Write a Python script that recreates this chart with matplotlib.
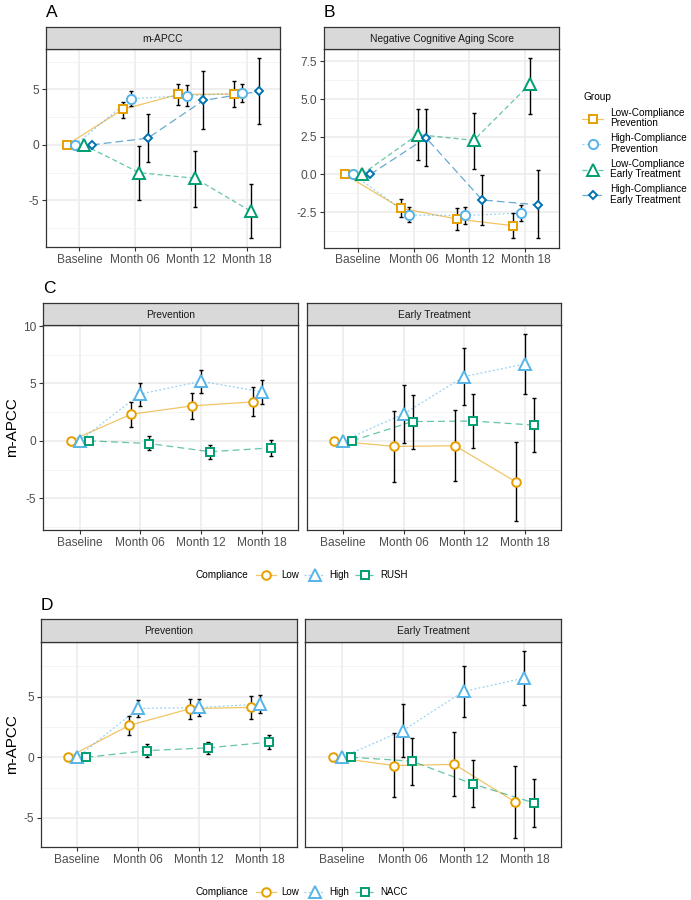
import numpy as np
import matplotlib.pyplot as plt
from matplotlib.lines import Line2D

plt.rcParams['font.family'] = ['Liberation Sans', 'DejaVu Sans']
plt.rcParams['lines.scale_dashes'] = False

# ---- data ---------------------------------------------------------------
times = ["Baseline", "Month 06", "Month 12", "Month 18"]

# panel A : m-APCC (mean, lower, upper) ; baseline has no error bar
a_lowprev = [0, 3.19, 4.55, 4.58]
a_lowprev_lo = [np.nan, 2.44, 3.61, 3.40]
a_lowprev_hi = [np.nan, 3.86, 5.51, 5.75]
a_highprev = [0, 4.16, 4.43, 4.67]
a_highprev_lo = [np.nan, 3.46, 3.46, 3.89]
a_highprev_hi = [np.nan, 4.85, 5.36, 5.45]
a_lowet = [0, -2.51, -3.02, -5.98]
a_lowet_lo = [np.nan, -4.97, -5.59, -8.40]
a_lowet_hi = [np.nan, -0.12, -0.56, -3.55]
a_highet = [0, 0.60, 4.00, 4.82]
a_highet_lo = [np.nan, -1.57, 1.42, 1.84]
a_highet_hi = [np.nan, 2.77, 6.63, 7.83]

# panel B : Negative Cognitive Aging Score
b_lowprev = [0, -2.24, -2.96, -3.40]
b_lowprev_lo = [np.nan, -2.85, -3.71, -4.25]
b_lowprev_hi = [np.nan, -1.64, -2.24, -2.57]
b_highprev = [0, -2.70, -2.72, -2.57]
b_highprev_lo = [np.nan, -3.18, -3.29, -3.11]
b_highprev_hi = [np.nan, -2.17, -2.13, -2.02]
b_lowet = [0, 2.65, 2.26, 5.98]
b_lowet_lo = [np.nan, 0.94, 0.39, 4.04]
b_lowet_hi = [np.nan, 4.33, 4.08, 7.73]
b_highet = [0, 2.43, -1.69, -2.02]
b_highet_lo = [np.nan, 0.57, -3.36, -4.25]
b_highet_hi = [np.nan, 4.33, -0.04, 0.29]

# panel C : m-APCC vs RUSH
c_prev_low = [0, 2.32, 3.04, 3.39]
c_prev_low_lo = [np.nan, 1.16, 1.91, 2.12]
c_prev_low_hi = [np.nan, 3.42, 4.20, 4.72]
c_prev_high = [0, 4.08, 5.18, 4.28]
c_prev_high_lo = [np.nan, 3.04, 4.14, 3.22]
c_prev_high_hi = [np.nan, 5.07, 6.17, 5.30]
c_prev_rush = [0, -0.24, -0.95, -0.62]
c_prev_rush_lo = [np.nan, -0.84, -1.57, -1.28]
c_prev_rush_hi = [np.nan, 0.38, -0.35, 0.03]
c_et_low = [0, -0.49, -0.43, -3.56]
c_et_low_lo = [np.nan, -3.62, -3.54, -6.96]
c_et_low_hi = [np.nan, 2.64, 2.70, -0.14]
c_et_high = [0, 2.34, 5.60, 6.69]
c_et_high_lo = [np.nan, -0.20, 3.13, 4.09]
c_et_high_hi = [np.nan, 4.87, 8.06, 9.28]
c_et_rush = [0, 1.68, 1.72, 1.37]
c_et_rush_lo = [np.nan, -0.67, -0.64, -1.01]
c_et_rush_hi = [np.nan, 4.03, 4.09, 3.74]

# panel D : m-APCC vs NACC
d_prev_low = [0, 2.63, 4.01, 4.12]
d_prev_low_lo = [np.nan, 1.84, 3.20, 3.20]
d_prev_low_hi = [np.nan, 3.42, 4.82, 5.04]
d_prev_high = [0, 4.03, 4.11, 4.39]
d_prev_high_lo = [np.nan, 3.32, 3.40, 3.62]
d_prev_high_hi = [np.nan, 4.74, 4.82, 5.15]
d_prev_nacc = [0, 0.55, 0.78, 1.25]
d_prev_nacc_lo = [np.nan, 0.05, 0.27, 0.66]
d_prev_nacc_hi = [np.nan, 1.07, 1.29, 1.84]
d_et_low = [0, -0.68, -0.59, -3.70]
d_et_low_lo = [np.nan, -3.32, -3.23, -6.66]
d_et_low_hi = [np.nan, 1.97, 2.05, -0.74]
d_et_high = [0, 2.20, 5.44, 6.54]
d_et_high_lo = [np.nan, 0.05, 3.34, 4.30]
d_et_high_hi = [np.nan, 4.36, 7.53, 8.77]
d_et_nacc = [0, -0.32, -2.20, -3.76]
d_et_nacc_lo = [np.nan, -2.25, -4.14, -5.73]
d_et_nacc_hi = [np.nan, 1.62, -0.25, -1.78]

group_labels = ["Low-Compliance\nPrevention", "High-Compliance\nPrevention",
                "Low-Compliance\nEarly Treatment", "High-Compliance\nEarly Treatment"]

# ---- styles -------------------------------------------------------------
ORANGE, SKY, GREEN, BLUE = "#E69F00", "#56B4E9", "#009E73", "#0072B2"
DOT = (0, (1.4, 1.6))
DASH = (0, (3.6, 2.2))
LONGDASH = (0, (5.6, 2.9))

style_ab = [dict(color=ORANGE, marker="s", ms=6.0, ls="-"),
            dict(color=SKY, marker="o", ms=6.6, ls=DOT),
            dict(color=GREEN, marker="^", ms=8.6, ls=DASH),
            dict(color=BLUE, marker="D", ms=4.1, ls=LONGDASH)]
style_cd = [dict(color=ORANGE, marker="o", ms=6.2, ls="-"),
            dict(color=SKY, marker="^", ms=8.4, ls=DOT),
            dict(color=GREEN, marker="s", ms=6.4, ls=(0, (5, 3)))]

W, H = 691, 900
fig = plt.figure(figsize=(6.91, 9.0), dpi=100)


def box(l, t, r, b):
    return [l / W, 1 - b / H, (r - l) / W, (b - t) / H]


def ylimits(series):
    vals = []
    for m, lo, hi in series:
        vals += list(m) + [v for v in lo + hi if not np.isnan(v)]
    lo, hi = min(vals), max(vals)
    pad = 0.05 * (hi - lo)
    return lo - pad, hi + pad


def panel(rect, strip_top, title, series, styles, offsets, ylim, yticks, ytlabels):
    l, t, r, b = rect
    ax = fig.add_axes(box(l, t, r, b))
    st = fig.add_axes(box(l, strip_top, r, t))
    st.set_facecolor("#D9D9D9")
    st.set_xticks([])
    st.set_yticks([])
    for s in st.spines.values():
        s.set_color("#333333")
        s.set_linewidth(0.9)
    st.text(0.5, 0.47, title, ha="center", va="center", fontsize=7.4, color="#1A1A1A",
            transform=st.transAxes)

    x = np.arange(len(times))
    for (m, lo, hi), sty, off in zip(series, styles, offsets):
        xs = x + off
        m = np.array(m)
        lo = np.array(lo)
        hi = np.array(hi)
        ax.plot(xs, m, color=sty["color"], ls=sty["ls"], lw=0.9, alpha=0.6, zorder=2)
        ax.errorbar(xs, m, yerr=[m - lo, hi - m], fmt="none", ecolor="black",
                    elinewidth=1.0, capsize=1.1, capthick=1.0, zorder=3)
        ax.plot(xs, m, ls="none", marker=sty["marker"], ms=sty["ms"], mec=sty["color"],
                mfc="white", mew=1.4, zorder=4)

    ax.set_xlim(-0.6, 3.6)
    ax.set_ylim(*ylim)
    ax.set_xticks(x)
    ax.set_xticklabels(times)
    ax.set_yticks(yticks)
    step = yticks[1] - yticks[0]
    minor = np.arange(yticks[0] - step * 1.5, yticks[-1] + step, step)
    ax.set_yticks(minor, minor=True)
    ax.tick_params(axis="y", which="minor", length=0)
    ax.grid(which="major", color="#EBEBEB", lw=1.1, zorder=0)
    ax.grid(which="minor", axis="y", color="#F2F2F2", lw=0.6, zorder=0)
    ax.set_axisbelow(True)
    ax.tick_params(which="major", length=3.0, width=0.8, color="#333333",
                   labelsize=8.6, labelcolor="#4D4D4D", pad=2)
    if ytlabels is None:
        ax.tick_params(axis="y", which="major", length=0, labelleft=False)
    else:
        ax.set_yticklabels(ytlabels)
    for s in ax.spines.values():
        s.set_color("#333333")
        s.set_linewidth(0.9)
    ax.set_ylim(*ylim)
    return ax


offs4 = [-0.225, -0.075, 0.075, 0.225]
offs3 = [-0.15, 0.0, 0.15]

# ---- A ------------------------------------------------------------------
sa = [(a_lowprev, a_lowprev_lo, a_lowprev_hi), (a_highprev, a_highprev_lo, a_highprev_hi),
      (a_lowet, a_lowet_lo, a_lowet_hi), (a_highet, a_highet_lo, a_highet_hi)]
panel((46, 49, 280, 247), 27, "m-APCC", sa, style_ab, offs4, ylimits(sa),
      [-5, 0, 5], ["-5", "0", "5"])

# ---- B ------------------------------------------------------------------
sb = [(b_lowprev, b_lowprev_lo, b_lowprev_hi), (b_highprev, b_highprev_lo, b_highprev_hi),
      (b_lowet, b_lowet_lo, b_lowet_hi), (b_highet, b_highet_lo, b_highet_hi)]
panel((324, 49, 559, 247.5), 27, "Negative Cognitive Aging Score", sb, style_ab, offs4,
      ylimits(sb), [-2.5, 0, 2.5, 5, 7.5], ["-2.5", "0.0", "2.5", "5.0", "7.5"])

# ---- C ------------------------------------------------------------------
sc_prev = [(c_prev_low, c_prev_low_lo, c_prev_low_hi), (c_prev_high, c_prev_high_lo, c_prev_high_hi),
           (c_prev_rush, c_prev_rush_lo, c_prev_rush_hi)]
sc_et = [(c_et_low, c_et_low_lo, c_et_low_hi), (c_et_high, c_et_high_lo, c_et_high_hi),
         (c_et_rush, c_et_rush_lo, c_et_rush_hi)]
ylc = ylimits(sc_prev + sc_et)
panel((43.3, 325, 298, 530), 302.7, "Prevention", sc_prev, style_cd, offs3, ylc,
      [-5, 0, 5, 10], ["-5", "0", "5", "10"])
panel((306.7, 325, 561, 530), 302.7, "Early Treatment", sc_et, style_cd, offs3, ylc,
      [-5, 0, 5, 10], None)

# ---- D ------------------------------------------------------------------
sd_prev = [(d_prev_low, d_prev_low_lo, d_prev_low_hi), (d_prev_high, d_prev_high_lo, d_prev_high_hi),
           (d_prev_nacc, d_prev_nacc_lo, d_prev_nacc_hi)]
sd_et = [(d_et_low, d_et_low_lo, d_et_low_hi), (d_et_high, d_et_high_lo, d_et_high_hi),
         (d_et_nacc, d_et_nacc_lo, d_et_nacc_hi)]
yld = ylimits(sd_prev + sd_et)
panel((40.7, 641.7, 296.7, 847.3), 619.3, "Prevention", sd_prev, style_cd, offs3, yld,
      [-5, 0, 5], ["-5", "0", "5"])
panel((305.3, 641.7, 561, 847.3), 619.3, "Early Treatment", sd_et, style_cd, offs3, yld,
      [-5, 0, 5], None)

# ---- labels -------------------------------------------------------------
for lab, xp, yp in [("A", 46, 16.7), ("B", 324, 16.7), ("C", 43, 293), ("D", 40.7, 610)]:
    fig.text(xp / W, 1 - yp / H, lab, fontsize=12.5, va="baseline", ha="left")
for yc in [427.5, 744.5]:
    fig.text(12 / W, 1 - yc / H, "m-APCC", rotation=90, fontsize=11,
             ha="center", va="center")


def key(sty):
    line = Line2D([], [], color=sty["color"], ls=sty["ls"], lw=0.9, alpha=0.6)
    mk = Line2D([], [], ls="none", marker=sty["marker"], ms=sty["ms"], mec=sty["color"],
                mfc="white", mew=1.4)
    return (line, mk)


fig.text(583 / W, 1 - 97 / H, "Group", fontsize=7.3, va="center", ha="left")
leg = fig.legend([key(s) for s in style_ab], group_labels, loc="upper left",
                 bbox_to_anchor=(582 / W, 1 - 108 / H), frameon=False,
                 fontsize=7.2, handlelength=2.1, handletextpad=0.75,
                 labelspacing=0.5, borderpad=0, borderaxespad=0)
for t in leg.get_texts():
    t.set_linespacing(1.05)

for yc, third in [(575, "RUSH"), (892, "NACC")]:
    fig.text(196 / W, 1 - yc / H, "Compliance", fontsize=7.2, va="center", ha="left")
    fig.legend([key(s) for s in style_cd], ["Low", "High", third], loc="center left",
               bbox_to_anchor=(256 / W, 1 - yc / H), frameon=False, ncol=3,
               fontsize=7.0, handlelength=2.1, handletextpad=0.5, columnspacing=0.55,
               borderpad=0, borderaxespad=0)

fig.savefig("out.png", dpi=100)
